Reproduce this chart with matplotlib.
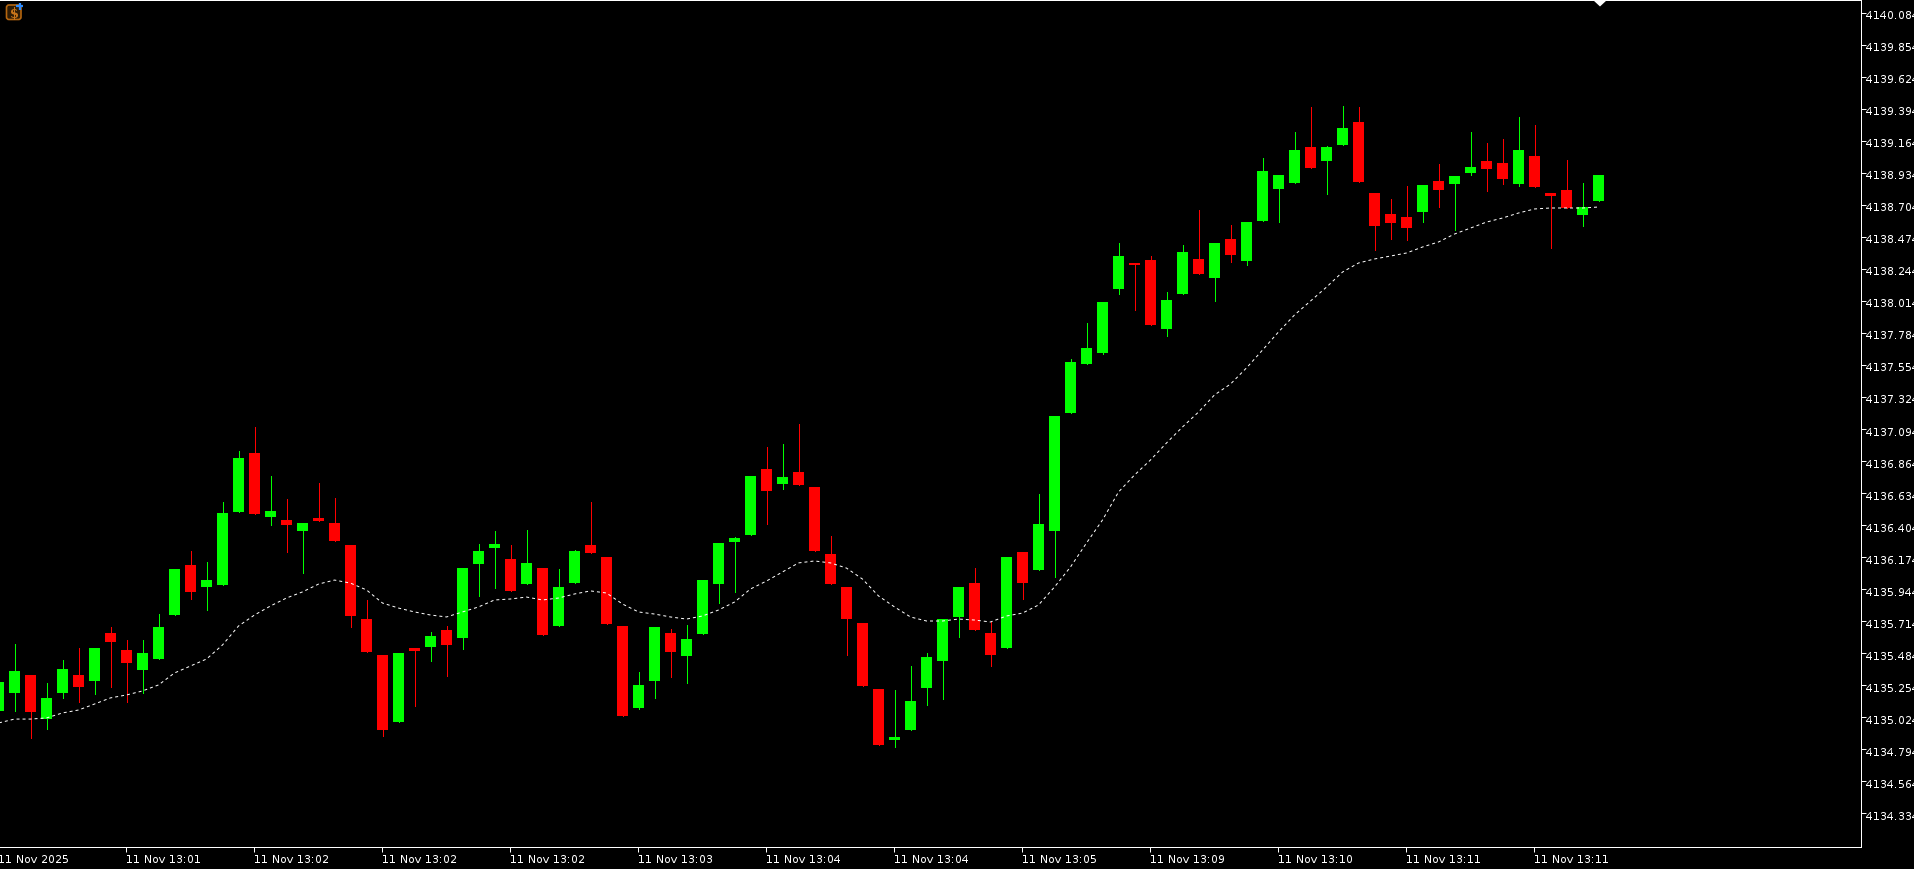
import matplotlib
matplotlib.use('Agg')
import matplotlib.pyplot as plt
from matplotlib.patches import FancyBboxPatch, Polygon
from matplotlib.transforms import ScaledTranslation
import numpy as np

# Velas (lectura del grafico), una por barra
open_prices = [
    4135.084, 4135.213, 4135.342, 4135.026, 4135.213, 4135.342, 4135.300, 4135.643, 4135.522, 4135.378, 4135.457,
    4135.773, 4136.132, 4135.974, 4135.988, 4136.513, 4136.936, 4136.477, 4136.455, 4136.376, 4136.470,
    4136.433, 4136.276, 4135.744, 4135.486, 4135.005, 4135.537, 4135.544, 4135.665, 4135.608, 4136.139,
    4136.254, 4136.175, 4135.995, 4136.110, 4135.694, 4136.002, 4136.276, 4136.190, 4135.694, 4135.106,
    4135.300, 4135.643, 4135.479, 4135.637, 4135.995, 4136.297, 4136.347, 4136.821, 4136.713, 4136.800,
    4136.692, 4136.211, 4135.974, 4135.715, 4135.242, 4134.876, 4134.948, 4135.250, 4135.443, 4135.759,
    4136.002, 4135.643, 4135.537, 4136.226, 4136.096, 4136.376, 4137.224, 4137.575, 4137.654, 4138.113,
    4138.300, 4138.322, 4137.826, 4138.077, 4138.329, 4138.192, 4138.472, 4138.314, 4138.601, 4138.831,
    4138.874, 4139.133, 4139.032, 4139.147, 4139.312, 4138.802, 4138.651, 4138.630, 4138.666, 4138.889,
    4138.867, 4138.946, 4139.032, 4139.018, 4138.867, 4139.068, 4138.802, 4138.824, 4138.645, 4138.745,
]
high_prices = [
    4135.293, 4135.565, 4135.342, 4135.285, 4135.450, 4135.537, 4135.537, 4135.687, 4135.594, 4135.594, 4135.780,
    4136.103, 4136.233, 4136.154, 4136.585, 4136.951, 4137.123, 4136.771, 4136.606, 4136.433, 4136.720,
    4136.613, 4136.276, 4135.881, 4135.486, 4135.500, 4135.537, 4135.651, 4135.694, 4136.110, 4136.283,
    4136.376, 4136.276, 4136.383, 4136.110, 4136.103, 4136.240, 4136.585, 4136.190, 4135.694, 4135.364,
    4135.687, 4135.672, 4135.701, 4136.024, 4136.290, 4136.333, 4136.771, 4136.980, 4137.001, 4137.144,
    4136.692, 4136.340, 4135.974, 4135.715, 4135.242, 4135.235, 4135.407, 4135.500, 4135.744, 4135.974,
    4136.110, 4135.723, 4136.190, 4136.226, 4136.642, 4137.202, 4137.611, 4137.869, 4138.020, 4138.443,
    4138.300, 4138.350, 4138.092, 4138.429, 4138.680, 4138.443, 4138.573, 4138.594, 4139.054, 4138.932,
    4139.240, 4139.420, 4139.140, 4139.427, 4139.420, 4138.802, 4138.759, 4138.853, 4138.860, 4139.011,
    4138.925, 4139.240, 4139.161, 4139.190, 4139.348, 4139.291, 4138.802, 4139.039, 4138.874, 4138.932,
]
low_prices = [
    4135.084, 4135.084, 4134.891, 4134.954, 4135.178, 4135.149, 4135.206, 4135.257, 4135.149, 4135.213, 4135.457,
    4135.773, 4135.888, 4135.809, 4135.988, 4136.513, 4136.498, 4136.419, 4136.226, 4136.074, 4136.448,
    4136.305, 4135.687, 4135.508, 4134.905, 4135.005, 4135.120, 4135.443, 4135.335, 4135.529, 4135.910,
    4135.967, 4135.946, 4135.995, 4135.629, 4135.694, 4136.002, 4136.219, 4135.708, 4135.048, 4135.098,
    4135.178, 4135.328, 4135.285, 4135.637, 4135.859, 4135.939, 4136.347, 4136.426, 4136.677, 4136.706,
    4136.233, 4135.995, 4135.486, 4135.264, 4134.840, 4134.826, 4134.948, 4135.127, 4135.170, 4135.615,
    4135.665, 4135.407, 4135.537, 4135.888, 4136.096, 4136.046, 4137.224, 4137.575, 4137.647, 4138.077,
    4137.963, 4137.855, 4137.776, 4138.077, 4138.221, 4138.027, 4138.307, 4138.286, 4138.601, 4138.594,
    4138.874, 4138.982, 4138.795, 4139.147, 4138.881, 4138.393, 4138.472, 4138.465, 4138.594, 4138.702,
    4138.537, 4138.932, 4138.817, 4138.867, 4138.853, 4138.846, 4138.408, 4138.695, 4138.566, 4138.745,
]
close_prices = [
    4135.293, 4135.371, 4135.077, 4135.178, 4135.385, 4135.257, 4135.537, 4135.580, 4135.428, 4135.500, 4135.687,
    4136.103, 4135.939, 4136.024, 4136.505, 4136.901, 4136.498, 4136.520, 4136.419, 4136.433, 4136.448,
    4136.305, 4135.766, 4135.508, 4134.948, 4135.500, 4135.515, 4135.622, 4135.558, 4136.110, 4136.233,
    4136.283, 4135.946, 4136.147, 4135.629, 4135.974, 4136.233, 4136.219, 4135.708, 4135.048, 4135.271,
    4135.687, 4135.508, 4135.601, 4136.024, 4136.290, 4136.326, 4136.771, 4136.663, 4136.764, 4136.706,
    4136.233, 4135.995, 4135.744, 4135.264, 4134.840, 4134.898, 4135.156, 4135.472, 4135.744, 4135.974,
    4135.665, 4135.486, 4136.190, 4136.002, 4136.426, 4137.202, 4137.590, 4137.690, 4138.020, 4138.350,
    4138.286, 4137.855, 4138.034, 4138.379, 4138.221, 4138.443, 4138.357, 4138.594, 4138.960, 4138.932,
    4139.111, 4138.982, 4139.133, 4139.269, 4138.881, 4138.566, 4138.587, 4138.551, 4138.860, 4138.824,
    4138.925, 4138.989, 4138.975, 4138.903, 4139.111, 4138.846, 4138.781, 4138.695, 4138.702, 4138.932,
]
# Media movil punteada
ma_values = [
    4134.998, 4135.026, 4135.026, 4135.034, 4135.070, 4135.091, 4135.134, 4135.178, 4135.199, 4135.228, 4135.271,
    4135.357, 4135.407, 4135.457, 4135.558, 4135.694, 4135.773, 4135.838, 4135.895, 4135.939, 4135.995,
    4136.024, 4136.002, 4135.953, 4135.859, 4135.823, 4135.795, 4135.773, 4135.759, 4135.795, 4135.831,
    4135.881, 4135.888, 4135.902, 4135.881, 4135.895, 4135.924, 4135.946, 4135.931, 4135.852, 4135.795,
    4135.780, 4135.759, 4135.744, 4135.766, 4135.809, 4135.866, 4135.960, 4136.017, 4136.082, 4136.147,
    4136.161, 4136.147, 4136.110, 4136.031, 4135.910, 4135.831, 4135.759, 4135.730, 4135.730, 4135.744,
    4135.737, 4135.723, 4135.766, 4135.787, 4135.845, 4135.974, 4136.118, 4136.290, 4136.455, 4136.656,
    4136.778, 4136.886, 4137.008, 4137.123, 4137.230, 4137.353, 4137.431, 4137.547, 4137.675, 4137.805,
    4137.927, 4138.027, 4138.127, 4138.235, 4138.300, 4138.329, 4138.350, 4138.372, 4138.415, 4138.451,
    4138.508, 4138.551, 4138.594, 4138.623, 4138.659, 4138.688, 4138.695, 4138.695, 4138.695, 4138.702,
]
price_ticks = [
    4140.084, 4139.854, 4139.624, 4139.394, 4139.164, 4138.934, 4138.704, 4138.474, 4138.244, 4138.014,
    4137.784, 4137.554, 4137.324, 4137.094, 4136.864, 4136.634, 4136.404, 4136.174, 4135.944, 4135.714,
    4135.484, 4135.254, 4135.024, 4134.794, 4134.564, 4134.334,
]
time_labels = [
    '11 Nov 2025', '11 Nov 13:01', '11 Nov 13:02', '11 Nov 13:02', '11 Nov 13:02', '11 Nov 13:03', '11 Nov 13:04',
    '11 Nov 13:04', '11 Nov 13:05', '11 Nov 13:09', '11 Nov 13:10', '11 Nov 13:11', '11 Nov 13:11',
]
time_every = 8  # una etiqueta cada 8 velas

W, H = 1915, 870
GREEN = '#00ff00'
RED = '#ff0000'
PX_PRICE = 0.0071786  # precio por pixel en vertical

plt.rcParams['text.hinting'] = 'native'
plt.rcParams['text.hinting_factor'] = 1

fig = plt.figure(figsize=(W / 100, H / 100), dpi=100, facecolor='black')
# el eje empieza 3 px fuera de la figura para que exista el primer tick
ax = fig.add_axes([-3 / W, (H - 847.5) / H, 1863.5 / W, 846.5 / H], facecolor='black')

o = np.array(open_prices)
h = np.array(high_prices)
l = np.array(low_prices)
c = np.array(close_prices)
x = np.arange(len(o))
colors = [GREEN if cc >= oo else RED for oo, cc in zip(o, c)]

ax.vlines(x, l, h, colors=colors, linewidth=0.72, antialiased=False, zorder=2)
ax.bar(x, np.abs(c - o), bottom=np.minimum(o, c), width=11 / 16, color=colors,
       linewidth=0, antialiased=False, zorder=3)
ax.plot(x, ma_values, color='white', linewidth=0.72, linestyle=(0, (3, 3)), zorder=4)

ax.set_xlim(-1.5 / 16, 1862 / 16)
# las velas bajan 1 px respecto a la escala de los ticks
ax.set_ylim(4134.104 + PX_PRICE, 4140.181 + PX_PRICE)

ax.yaxis.tick_right()
ax.set_yticks(np.array(price_ticks) + 2 * PX_PRICE)
ax.set_yticklabels(['%.3f' % p for p in price_ticks])
ax.set_xticks(np.arange(len(time_labels)) * time_every - 0.03)
ax.set_xticklabels(time_labels, ha='left')
ax.tick_params(axis='y', colors='white', length=3.6, width=0.72, labelsize=8, pad=0)
ax.tick_params(axis='x', colors='white', length=3.6, width=0.72, labelsize=8, pad=0.8)
for lbl in ax.get_yticklabels():
    lbl.set_transform(lbl.get_transform() + ScaledTranslation(0, -1 / 100, fig.dpi_scale_trans))

for side in ['top', 'right', 'bottom']:
    ax.spines[side].set_color('white')
    ax.spines[side].set_linewidth(0.72)
ax.spines['left'].set_visible(False)

# capa en pixeles para el icono y el triangulo de arriba
over = fig.add_axes([0, 0, 1, 1], facecolor='none')
over.set_xlim(0, W)
over.set_ylim(H, 0)
over.axis('off')
over.add_patch(FancyBboxPatch((7, 6.5), 13.5, 13.5, boxstyle='round,pad=0.5,rounding_size=2.5',
                              facecolor='#2e1c06', edgecolor='#b5660f', linewidth=1.2))
over.text(13.7, 13.5, '$', color='#c8751a', fontsize=10, ha='center', va='center', fontweight='bold')
over.plot([20, 20], [3.5, 10.5], color='#2f8cff', linewidth=1.6, solid_capstyle='butt')
over.plot([16.5, 23.5], [7, 7], color='#2f8cff', linewidth=1.6, solid_capstyle='butt')
over.add_patch(Polygon([(1593, 1), (1607, 1), (1600, 7.5)], closed=True, facecolor='white', edgecolor='none'))

fig.savefig('out.png', dpi=100, facecolor='black')
